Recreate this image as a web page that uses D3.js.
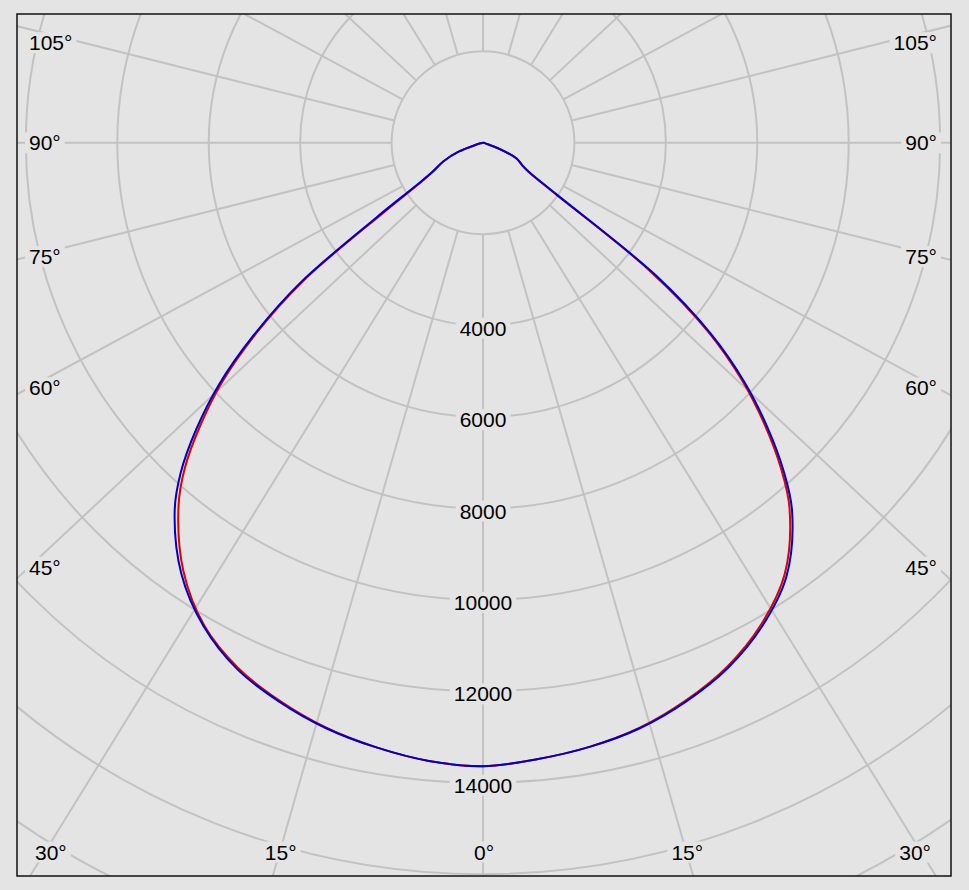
<!DOCTYPE html>
<html>
<head>
<meta charset="utf-8">
<script src="https://cdn.jsdelivr.net/npm/d3@7"></script>
<style>
  html, body { margin: 0; padding: 0; background: #e4e4e4; }
  svg { display: block; }
</style>
</head>
<body>
<svg id="chart" width="969" height="890"></svg>
<script>
// ---- data (luminous intensity, cd, vs. gamma angle in degrees) ----
const angles = [0, 5, 10, 15, 20, 25, 30, 35, 40, 42.5, 45, 47.5, 50, 52.5, 55, 57.5, 60, 65, 70, 75, 80, 85, 90];
const redLeft   = [13637, 13573, 13429, 13247, 12991, 12676, 12195, 11429, 10361, 9656, 8746, 7731, 6462, 4945, 2626, 1619, 1260, 952, 569, 144, 57, 22, 0];
const redRight  = [13637, 13536, 13418, 13247, 12980, 12643, 12168, 11510, 10431, 9643, 8709, 7681, 6433, 4595, 1794, 1170, 985, 810, 350, 66, 33, 15, 0];
const blueLeft  = [13637, 13573, 13429, 13258, 13013, 12709, 12217, 11505, 10492, 9788, 8877, 7840, 6549, 5068, 2845, 1718, 1291, 952, 569, 144, 57, 22, 0];
const blueRight = [13637, 13536, 13418, 13258, 13002, 12676, 12212, 11575, 10519, 9731, 8796, 7768, 6521, 4770, 1947, 1225, 1007, 810, 350, 66, 33, 15, 0];

const ringValues = [2000, 4000, 6000, 8000, 10000, 12000, 14000, 16000, 18000, 20000, 22000];
const ringLabels = [4000, 6000, 8000, 10000, 12000, 14000];
const gridAngles = d3.range(0, 360, 15);
const sideLabelAngles = [45, 60, 75, 90, 105];
const bottomLabelAngles = [0, 15, 30];

// ---- layout ----
const W = 969, H = 890;
const cx = 483, cy = 142.8;
const frame = { x0: 17, y0: 14, x1: 951, y1: 876 };
const inset = { left: 29, right: 937, top: 42.7, bottom: 852 };
const stretch = 1.07;           // angular stretch of the grid rays seen in the original
const BG = "#e4e4e4", GRID = "#c2c2c2";
const FONT = "'Liberation Sans', Arial, sans-serif";

const r = d3.scaleLinear().domain([0, 14000]).range([0, 640]);

const svg = d3.select("#chart");
svg.append("rect").attr("width", W).attr("height", H).attr("fill", BG);

const defs = svg.append("defs");
defs.append("clipPath").attr("id", "frameClip")
  .append("rect")
  .attr("x", frame.x0).attr("y", frame.y0)
  .attr("width", frame.x1 - frame.x0).attr("height", frame.y1 - frame.y0);

const plot = svg.append("g").attr("clip-path", "url(#frameClip)");

// rings
plot.append("g").selectAll("circle").data(ringValues).join("circle")
  .attr("cx", cx).attr("cy", cy).attr("r", d => r(d))
  .attr("fill", "none").attr("stroke", GRID).attr("stroke-width", 2);

// ray direction (gamma measured from straight down)
function dir(deg) {
  const a = deg * Math.PI / 180;
  const dx = stretch * Math.sin(a), dy = Math.cos(a);
  const n = Math.hypot(dx, dy);
  return [dx / n, dy / n];
}

plot.append("g").selectAll("line").data(gridAngles).join("line")
  .attr("x1", d => cx + r(2000) * dir(d)[0])
  .attr("y1", d => cy + r(2000) * dir(d)[1])
  .attr("x2", d => cx + 1500 * dir(d)[0])
  .attr("y2", d => cy + 1500 * dir(d)[1])
  .attr("stroke", GRID).attr("stroke-width", 2);

// labels with background masks
const labelLayer = plot.append("g");
function addLabel(text, x, y, anchor) {
  const g = labelLayer.append("g");
  const bg = g.append("rect").attr("fill", BG);
  const t = g.append("text")
    .attr("x", x).attr("y", y)
    .attr("text-anchor", anchor)
    .attr("dominant-baseline", "central")
    .attr("font-family", FONT).attr("font-size", 21)
    .attr("fill", "#000")
    .text(text);
  const b = t.node().getBBox();
  bg.attr("x", b.x - 4).attr("y", b.y + 1).attr("width", b.width + 8).attr("height", b.height - 2);
}

ringLabels.forEach(v => addLabel(String(v), cx, cy + r(v) + 2.5, "middle"));

sideLabelAngles.forEach(a => {
  [-1, 1].forEach(s => {
    const [dx, dy] = dir(a);
    const xEdge = s < 0 ? inset.left : inset.right;
    const t = Math.abs(xEdge - cx) / dx;
    let y = cy + t * dy;
    y = Math.max(inset.top, Math.min(inset.bottom, y));
    addLabel(a + "°", xEdge, y, s < 0 ? "start" : "end");
  });
});

bottomLabelAngles.forEach(a => {
  const sides = a === 0 ? [1] : [-1, 1];
  sides.forEach(s => {
    const [dx, dy] = dir(a);
    const t = (inset.bottom - cy) / dy;
    let x = cx + s * t * dx;
    if (a === 30) {
      addLabel(a + "°", s < 0 ? 35 : 931, inset.bottom, s < 0 ? "start" : "end");
    } else {
      addLabel(a + "°", x + 1, inset.bottom, "middle");
    }
  });
});

// curves
function seriesPoints(left, right) {
  const pts = [];
  for (let i = angles.length - 1; i >= 0; i--) pts.push({ a: Math.PI + angles[i] * Math.PI / 180, v: left[i] });
  for (let i = 1; i < angles.length; i++) pts.push({ a: Math.PI - angles[i] * Math.PI / 180, v: right[i] });
  return pts;
}
const radial = d3.lineRadial()
  .angle(d => d.a)
  .radius(d => r(d.v))
  .curve(d3.curveCatmullRom.alpha(0.5));

const curves = plot.append("g").attr("transform", `translate(${cx},${cy})`);
curves.append("path").attr("d", radial(seriesPoints(redLeft, redRight)))
  .attr("fill", "none").attr("stroke", "#e00000").attr("stroke-width", 2);
curves.append("path").attr("d", radial(seriesPoints(blueLeft, blueRight)))
  .attr("fill", "none").attr("stroke", "#0000c8").attr("stroke-width", 2);

// frame
svg.append("rect")
  .attr("x", frame.x0).attr("y", frame.y0)
  .attr("width", frame.x1 - frame.x0).attr("height", frame.y1 - frame.y0)
  .attr("fill", "none").attr("stroke", "#111").attr("stroke-width", 1.5);
</script>
</body>
</html>
